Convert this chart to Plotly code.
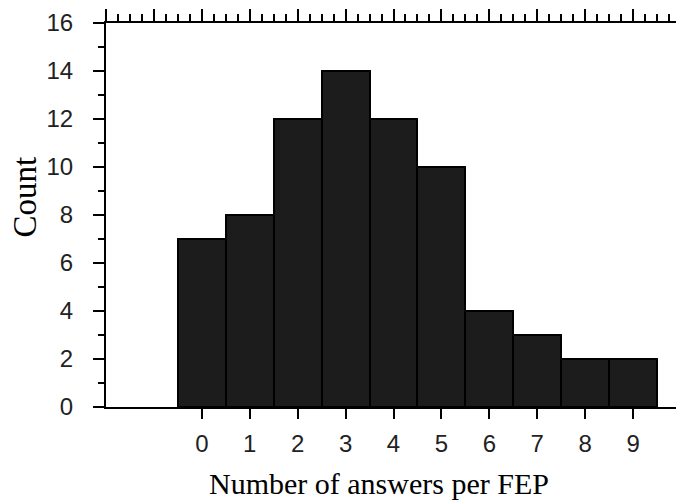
import plotly.graph_objects as go

categories = [0, 1, 2, 3, 4, 5, 6, 7, 8, 9]
counts = [7, 8, 12, 14, 12, 10, 4, 3, 2, 2]
x_ticks = [0, 1, 2, 3, 4, 5, 6, 7, 8, 9, 10]
x_ticktext = ["0", "1", "2", "3", "4", "5", "6", "7", "8", "9", ""]
x_title = "Number of answers per FEP"
y_title = "Count"

fig = go.Figure()
fig.add_trace(go.Bar(
    x=categories, y=counts, width=1,
    marker=dict(color="#1c1c1c", line=dict(color="black", width=2)),
    showlegend=False,
))
# invisible trace to activate top / right axes
fig.add_trace(go.Scatter(x=[-2, 10], y=[0, 16], xaxis="x2", yaxis="y2",
                         mode="markers", marker=dict(opacity=0), showlegend=False,
                         hoverinfo="skip"))

tickfont = dict(family="Liberation Sans Narrow, Liberation Sans, Arial, sans-serif", size=24, color="#222")
serif = "Liberation Serif, Times New Roman, serif"
fig.update_layout(
    width=684, height=503,
    margin=dict(l=98, r=11, t=15, b=104),
    plot_bgcolor="white", paper_bgcolor="white",
    bargap=0,
    xaxis=dict(range=[-2, 10], tickvals=x_ticks, ticktext=x_ticktext,
               ticks="outside", ticklen=10, tickwidth=2, tickcolor="black",
               showline=True, linewidth=2, linecolor="black",
               showgrid=False, zeroline=False, tickfont=tickfont,
               ticklabelstandoff=4, automargin=False),
    yaxis=dict(range=[0, 16], dtick=2, ticks="outside", ticklen=11, tickwidth=2,
               tickcolor="black", showline=True, linewidth=2, linecolor="black",
               showgrid=False, zeroline=False, tickfont=tickfont,
               ticklabelstandoff=15, automargin=False,
               minor=dict(dtick=1, ticks="outside", ticklen=6, tickwidth=2, tickcolor="black")),
    xaxis2=dict(range=[-2, 10], overlaying="x", side="top", dtick=1, tick0=0,
                ticks="outside", ticklen=12, tickwidth=2, tickcolor="black",
                showticklabels=False, showline=True, linewidth=2, linecolor="black",
                showgrid=False, zeroline=False, automargin=False,
                minor=dict(dtick=0.25, ticks="outside", ticklen=7, tickwidth=2, tickcolor="black")),
    yaxis2=dict(range=[0, 16], overlaying="y", side="right", dtick=1,
                ticks="outside", ticklen=6, tickwidth=2, tickcolor="black",
                showticklabels=False, showline=True, linewidth=2, linecolor="black",
                showgrid=False, zeroline=False, automargin=False),
    annotations=[
        dict(text=x_title, xref="paper", yref="paper", x=0.475, y=-0.198,
             xanchor="center", yanchor="middle", showarrow=False,
             font=dict(family=serif, size=30, color="black")),
        dict(text=y_title, xref="paper", yref="paper", x=-0.141, y=0.548,
             xanchor="center", yanchor="middle", showarrow=False, textangle=-90,
             font=dict(family=serif, size=33, color="black")),
    ],
)

fig.write_html("out.html")
